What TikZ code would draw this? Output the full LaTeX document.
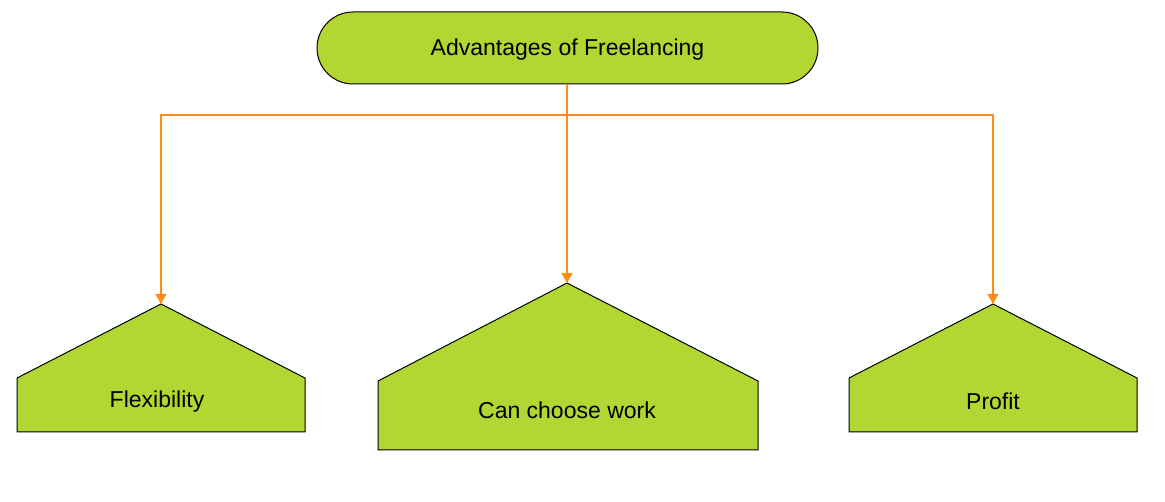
\documentclass[tikz,border=0pt]{standalone}
\usepackage{fontspec}
\setmainfont{Liberation Sans}
\usetikzlibrary{arrows.meta}
\definecolor{leaf}{HTML}{B2D732}
\definecolor{wire}{HTML}{FF8C1A}
\tikzset{
  house/.style={draw=black, fill=leaf, line width=1pt, line join=miter},
  lbl/.style={font=\fontsize{23}{27}\selectfont, text=black, inner sep=0pt},
  conn/.style={draw=wire, line width=1.2pt, -{Triangle[width=11pt,length=10pt]}},
  trunk/.style={draw=wire, line width=1.2pt},
}
\begin{document}
\begin{tikzpicture}[x=1pt,y=-1pt]
\useasboundingbox (0,0) rectangle (1165,502);
% top
\node[draw=black, fill=leaf, line width=1pt, rounded corners=36pt, minimum width=501pt, minimum height=72pt, inner sep=0pt] (top) at (567.5,48) {};
\node[lbl] (toplbl) at (567.5,49.5) {Advantages of Freelancing};
% houses
\path[house] (161,304) -- (305,378) -- (305,432) -- (17,432) -- (17,378) -- cycle;
\path[house] (567,283) -- (758,381) -- (758,450) -- (378,450) -- (378,381) -- cycle;
\path[house] (993,304) -- (1137,378) -- (1137,432) -- (849,432) -- (849,378) -- cycle;
\coordinate (aL) at (161,304);
\coordinate (aM) at (567,283);
\coordinate (aR) at (993,304);
\coordinate (j) at (567,115);
\node[lbl] (flex) at (157,401.5) {Flexibility};
\node[lbl] (work) at (567,410.5) {Can choose work};
\node[lbl] (profit) at (993,401.5) {Profit};
% connectors
\draw[trunk] (top.south -| j) -- (j);
\draw[conn] (j) -| (aL);
\draw[conn] (j) -- (aM);
\draw[conn] (j) -| (aR);
\end{tikzpicture}
\end{document}
